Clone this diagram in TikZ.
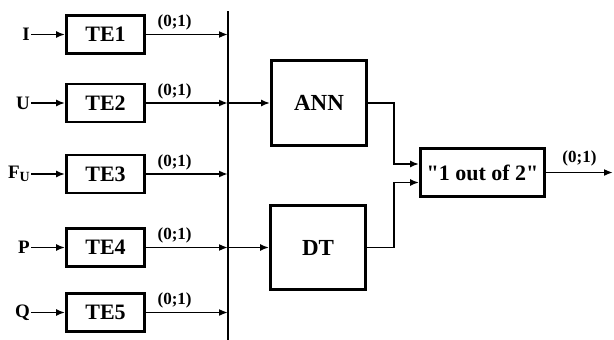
\documentclass[tikz,border=0pt]{standalone}
\usepackage{fontspec}
\setmainfont{Liberation Serif}
\newfontfamily\votefont{Liberation Serif}
\usetikzlibrary{arrows.meta}
\tikzset{
  tebox/.style={draw,line width=2.8pt,inner sep=0pt,minimum width=78,minimum height=38,
    font=\fontsize{22}{24}\selectfont\bfseries},
  bigbox/.style={draw,line width=2.8pt,inner sep=0pt,font=\fontsize{23}{25}\selectfont\bfseries},
  wire/.style={line width=1.8pt,-{Latex[length=9pt,width=7pt]}},
  lab/.style={inner sep=1pt,font=\fontsize{17}{19}\selectfont\bfseries},
  inlab/.style={inner sep=1pt,font=\fontsize{19}{21}\selectfont\bfseries},
}
\begin{document}
\begin{tikzpicture}[x=1pt,y=-1pt]
\useasboundingbox (0,0) rectangle (614,340);
% bus
\coordinate (bustop) at (228,11);
\coordinate (busbot) at (228,340);
\draw[line width=1.8pt] (bustop) -- (busbot);
% input channels
\foreach \i/\yy/\inp in {1/34.5/I, 2/103/U, 3/174/{F\raisebox{-3pt}{\fontsize{14}{14}\selectfont U}}, 4/247.5/P, 5/312.5/Q}{
  \node[tebox] (te\i) at (105.5,\yy) {TE\i};
  \node[inlab,anchor=east] (in\i) at (31,\yy) {\inp};
  \coordinate (bus\i) at (228,\yy);
  \draw[wire] (in\i.east) -- (te\i.west);
  \draw[wire] (te\i.east) -- node[lab,pos=0.35,anchor=south,yshift=2pt]{(0;1)} (bus\i);
}
% classifiers
\node[bigbox,minimum width=95,minimum height=85] (ann) at (319,103) {ANN};
\node[bigbox,minimum width=95,minimum height=84] (dt) at (318,247.5) {DT};
\node[bigbox,minimum width=124,minimum height=48,font=\fontsize{22}{24}\votefont\bfseries] (vote) at (482.5,172.5) {"1 out of 2"};
\coordinate (out) at (613,172.5);
\draw[wire] (bus2) -- (ann.west);
\draw[wire] (bus4) -- (dt.west);
\draw[wire] (ann.east) -- ++(26,0) |- ([yshift=8.5pt]vote.west);
\draw[wire] (dt.east) -- ++(27,0) |- ([yshift=-10pt]vote.west);
\draw[wire] (vote.east) -- node[lab,pos=0.5,anchor=south,yshift=4pt]{(0;1)} (out);
\end{tikzpicture}
\end{document}
